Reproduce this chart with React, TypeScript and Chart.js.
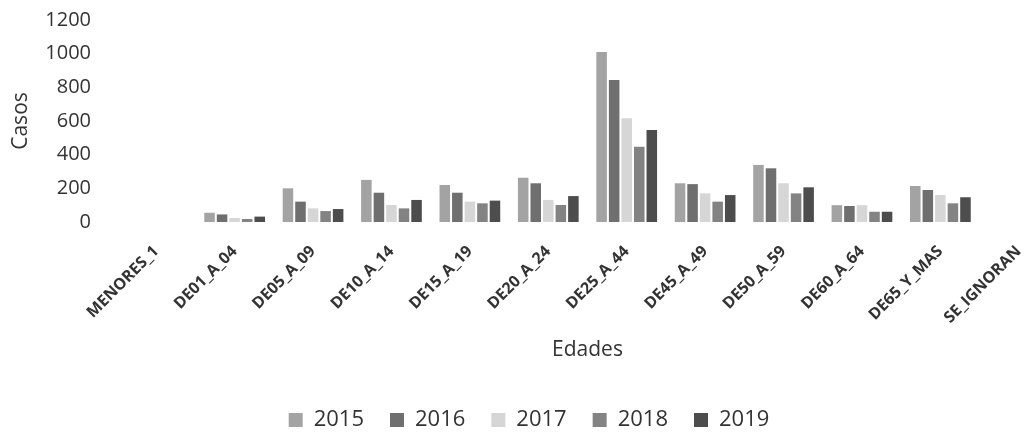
import { useEffect, useRef } from 'react';
import { Chart, registerables } from 'chart.js';

Chart.register(...registerables);

const categories = [
  'MENORES_1',
  'DE01_A_04',
  'DE05_A_09',
  'DE10_A_14',
  'DE15_A_19',
  'DE20_A_24',
  'DE25_A_44',
  'DE45_A_49',
  'DE50_A_59',
  'DE60_A_64',
  'DE65_Y_MAS',
  'SE_IGNORAN',
];

const seriesNames = ['2015', '2016', '2017', '2018', '2019'];

const values2015 = [0, 55, 200, 250, 220, 263, 1010, 230, 339, 100, 214, 0];
const values2016 = [0, 45, 121, 174, 174, 230, 843, 225, 319, 95, 190, 0];
const values2017 = [0, 24, 81, 101, 121, 131, 616, 170, 230, 100, 160, 0];
const values2018 = [0, 18, 65, 81, 111, 101, 447, 121, 170, 61, 111, 0];
const values2019 = [0, 32, 77, 131, 127, 154, 546, 160, 206, 61, 147, 0];

const yTickValues = [0, 200, 400, 600, 800, 1000, 1200];

const seriesColors = ['#a3a3a3', '#6f6f6f', '#d6d6d6', '#838383', '#4d4d4d'];

const TEXT = '#333333';
const FONT = "'Open Sans', 'Noto Sans', sans-serif";

export default function App() {
  const ref = useRef<HTMLCanvasElement>(null);

  useEffect(() => {
    if (!ref.current) return;
    const allValues = [values2015, values2016, values2017, values2018, values2019];
    const chart = new Chart(ref.current, {
      type: 'bar',
      data: {
        labels: categories,
        datasets: seriesNames.map((name, i) => ({
          label: name,
          data: allValues[i],
          backgroundColor: seriesColors[i],
          borderWidth: 0,
          categoryPercentage: 0.8,
          barPercentage: 0.84,
        })),
      },
      options: {
        responsive: false,
        animation: false,
        layout: { padding: { left: 0, right: 12, top: 20, bottom: -5 } },
        plugins: {
          legend: {
            position: 'bottom',
            labels: {
              boxWidth: 14,
              boxHeight: 14,
              padding: 26,
              color: TEXT,
              font: { family: FONT, size: 22 },
            },
          },
          tooltip: { enabled: false },
        },
        scales: {
          x: {
            grid: { display: false, drawTicks: false },
            border: { display: false },
            ticks: {
              autoSkip: false,
              maxRotation: 45,
              minRotation: 45,
              padding: 20,
              color: TEXT,
              font: { family: FONT, size: 16, weight: 'bold' },
            },
            title: {
              display: true,
              text: 'Edades',
              color: TEXT,
              font: { family: FONT, size: 21 },
              padding: { top: 0, bottom: 20 },
            },
            afterFit: (scale: any) => {
              scale.height = 161;
            },
          },
          y: {
            min: 0,
            max: 1200,
            afterBuildTicks: (scale: any) => {
              scale.ticks = yTickValues.map((v) => ({ value: v }));
            },
            grid: { display: false, drawTicks: true, tickLength: 26 },
            border: { display: false },
            ticks: {
              padding: 0,
              color: TEXT,
              font: { family: FONT, size: 20 },
              callback: (value: any) => String(value),
            },
            title: {
              display: true,
              text: 'Casos',
              color: TEXT,
              font: { family: FONT, size: 21 },
              padding: { top: 8, bottom: 0 },
            },
            afterFit: (scale: any) => {
              scale.width = 117;
            },
          },
        },
      },
    });
    return () => chart.destroy();
  }, []);

  return (
    <div
      style={{
        position: 'absolute',
        left: 0,
        top: 0,
        width: 1030,
        height: 436,
        overflow: 'hidden',
        background: '#ffffff',
      }}
    >
      <canvas ref={ref} width={1070} height={436} style={{ display: 'block' }} />
    </div>
  );
}
